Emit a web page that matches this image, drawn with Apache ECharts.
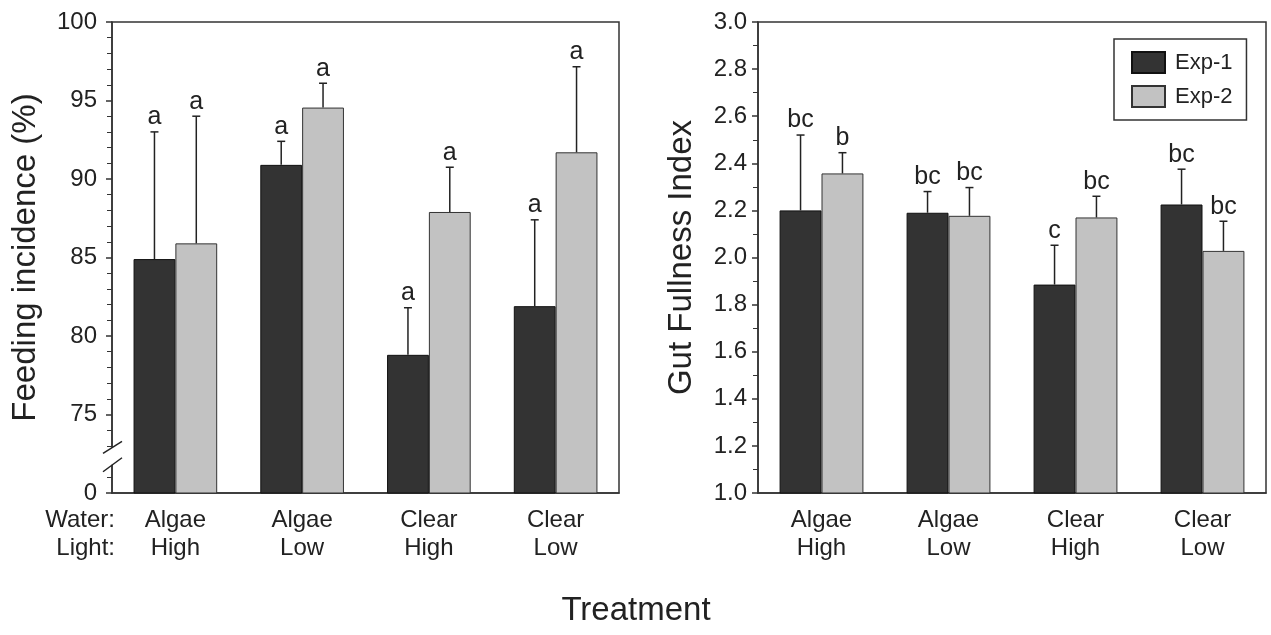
<!DOCTYPE html>
<html>
<head>
<meta charset="utf-8">
<script src="https://cdn.jsdelivr.net/npm/echarts@6/dist/echarts.min.js"></script>
<style>
    html, body { margin: 0; padding: 0; background: #fff; }
    #chart { width: 1271px; height: 635px; }
</style>
</head>
<body>
<div id="chart"></div>
<script>
// treatments (water / light)
const categories = ["Algae\nHigh", "Algae\nLow", "Clear\nHigh", "Clear\nLow"];

// feeding incidence (%), mean and SE
const feedExp1 = [84.9, 90.9, 78.8, 81.9];
const feedSe1 = [8.1, 1.5, 3.0, 5.5];
const feedExp2 = [85.9, 94.55, 87.9, 91.7];
const feedSe2 = [8.1, 1.55, 2.85, 5.45];
const feedLetters1 = ["a", "a", "a", "a"];
const feedLetters2 = ["a", "a", "a", "a"];

// gut fullness index, mean and SE
const gutExp1 = [2.2, 2.19, 1.885, 2.225];
const gutSe1 = [0.32, 0.09, 0.167, 0.15];
const gutExp2 = [2.357, 2.177, 2.17, 2.028];
const gutSe2 = [0.088, 0.12, 0.09, 0.126];
const gutLetters1 = ["bc", "bc", "c", "bc"];
const gutLetters2 = ["b", "bc", "bc", "bc"];

const font = "'Liberation Sans', Arial, sans-serif";
const ink = "#222";
const dark = "#333333";
const light = "#c2c2c2";

let chart = echarts.init(document.getElementById("chart"));

function errBars(means, ses, letters, side, gridIdx) {
    return {
        type: "custom",
        name: "err" + gridIdx + side,
        xAxisIndex: gridIdx,
        yAxisIndex: gridIdx,
        z: 5,
        silent: true,
        data: means.map((m, i) => [i, m, m + ses[i]]),
        renderItem: function(params, api) {
            let idx = api.value(0);
            let w = api.size([1, 0])[0];
            let cx = api.coord([idx, api.value(1)])[0] + side * 0.165 * w;
            let top = api.coord([idx, api.value(1)])[1];
            let cap = api.coord([idx, api.value(2)])[1];
            let lineStyle = { stroke: ink, lineWidth: 1.5 };
            return {
                type: "group",
                children: [
                    { type: "line", shape: { x1: cx, y1: top, x2: cx, y2: cap }, style: lineStyle },
                    { type: "line", shape: { x1: cx - 4, y1: cap, x2: cx + 4, y2: cap }, style: lineStyle },
                    {
                        type: "text",
                        x: cx,
                        y: cap - 2,
                        style: {
                            text: letters[params.dataIndex],
                            fill: ink,
                            font: "25px " + font,
                            align: "center",
                            verticalAlign: "bottom"
                        }
                    }
                ]
            };
        }
    };
}

// axis break on left panel
const breakHigh = 72.9;
const breakLow = 71.8;
let breakSeries = {
    type: "custom",
    name: "break",
    xAxisIndex: 0,
    yAxisIndex: 0,
    z: 6,
    silent: true,
    clip: false,
    data: [[0, breakHigh, breakLow]],
    renderItem: function(params, api) {
        let w = api.size([1, 0])[0];
        let x = api.coord([0, breakHigh])[0] - w / 2;
        let y1 = api.coord([0, breakHigh])[1];
        let y2 = api.coord([0, breakLow])[1];
        let st = { stroke: ink, lineWidth: 1.5 };
        return {
            type: "group",
            children: [
                { type: "rect", shape: { x: x - 8, y: y1, width: 10, height: y2 - y1 }, style: { fill: "#fff" } },
                { type: "line", shape: { x1: x - 9, y1: y1 + 6, x2: x + 10, y2: y1 - 6 }, style: st },
                { type: "line", shape: { x1: x - 9, y1: y2 + 7, x2: x + 10, y2: y2 - 7 }, style: st }
            ]
        };
    }
};

function catAxis(gridIdx) {
    return {
        type: "category",
        gridIndex: gridIdx,
        data: categories,
        axisLine: { lineStyle: { color: dark, width: 1.5 } },
        axisTick: { length: 6, lineStyle: { color: dark, width: 1.5 } },
        axisLabel: {
            color: ink,
            fontFamily: font,
            fontSize: 24,
            lineHeight: 28,
            margin: 13
        }
    };
}

let option = {
    animation: false,
    backgroundColor: "#fff",
    textStyle: { fontFamily: font },
    legend: {
        data: ["Exp-1", "Exp-2"],
        orient: "vertical",
        left: 1114,
        top: 39,
        itemWidth: 33,
        itemHeight: 21,
        itemGap: 11,
        padding: [12, 14, 12, 17],
        borderColor: dark,
        borderWidth: 1.5,
        icon: "rect",
        textStyle: { fontSize: 22, color: ink, fontFamily: font, padding: [0, 0, 0, 5] }
    },
    grid: [
        { left: 112, top: 22, width: 507, height: 471, show: true, borderColor: dark, borderWidth: 1.5, backgroundColor: "transparent" },
        { left: 758, top: 22, width: 508, height: 471, show: true, borderColor: dark, borderWidth: 1.5, backgroundColor: "transparent" }
    ],
    xAxis: [catAxis(0), catAxis(1)],
    yAxis: [
        {
            type: "value",
            gridIndex: 0,
            min: 70,
            max: 100,
            interval: 5,
            name: "Feeding incidence (%)",
            nameLocation: "middle",
            nameGap: 70,
            nameTextStyle: { fontSize: 33, color: ink, fontFamily: font },
            splitLine: { show: false },
            axisLine: { show: true, lineStyle: { color: dark, width: 1.5 } },
            axisTick: { show: true, length: 6, lineStyle: { color: dark, width: 1.5 } },
            minorTick: { show: true, splitNumber: 5, length: 5, lineStyle: { color: dark, width: 1 } },
            axisLabel: {
                color: ink,
                fontSize: 24,
                fontFamily: font,
                margin: 15,
                formatter: v => (v === 70 ? "0" : String(v))
            }
        },
        {
            type: "value",
            gridIndex: 1,
            min: 1,
            max: 3,
            interval: 0.2,
            name: "Gut Fullness Index",
            nameLocation: "middle",
            nameGap: 60,
            nameTextStyle: { fontSize: 33, color: ink, fontFamily: font },
            splitLine: { show: false },
            axisLine: { show: true, lineStyle: { color: dark, width: 1.5 } },
            axisTick: { show: true, length: 6, lineStyle: { color: dark, width: 1.5 } },
            minorTick: { show: true, splitNumber: 2, length: 5, lineStyle: { color: dark, width: 1 } },
            axisLabel: {
                color: ink,
                fontSize: 24,
                fontFamily: font,
                margin: 11,
                formatter: v => v.toFixed(1)
            }
        }
    ],
    graphic: [
        { type: "text", x: 115, y: 520, style: { text: "Water:", font: "24px " + font, fill: ink, align: "right", verticalAlign: "middle" } },
        { type: "text", x: 115, y: 548, style: { text: "Light:", font: "24px " + font, fill: ink, align: "right", verticalAlign: "middle" } },
        { type: "text", x: 636, y: 611, style: { text: "Treatment", font: "33px " + font, fill: ink, align: "center", verticalAlign: "middle" } }
    ],
    series: [
        {
            name: "Exp-1", type: "bar", xAxisIndex: 0, yAxisIndex: 0, data: feedExp1,
            barGap: 0, barCategoryGap: "34%",
            itemStyle: { color: dark, borderColor: "#111", borderWidth: 1 }
        },
        {
            name: "Exp-2", type: "bar", xAxisIndex: 0, yAxisIndex: 0, data: feedExp2,
            barGap: 0, barCategoryGap: "34%",
            itemStyle: { color: light, borderColor: "#333", borderWidth: 1 }
        },
        {
            name: "Exp-1", type: "bar", xAxisIndex: 1, yAxisIndex: 1, data: gutExp1,
            barGap: 0, barCategoryGap: "34%",
            itemStyle: { color: dark, borderColor: "#111", borderWidth: 1 }
        },
        {
            name: "Exp-2", type: "bar", xAxisIndex: 1, yAxisIndex: 1, data: gutExp2,
            barGap: 0, barCategoryGap: "34%",
            itemStyle: { color: light, borderColor: "#333", borderWidth: 1 }
        },
        errBars(feedExp1, feedSe1, feedLetters1, -1, 0),
        errBars(feedExp2, feedSe2, feedLetters2, 1, 0),
        errBars(gutExp1, gutSe1, gutLetters1, -1, 1),
        errBars(gutExp2, gutSe2, gutLetters2, 1, 1),
        breakSeries
    ]
};

chart.setOption(option);
window.addEventListener("resize", function() {
    chart.resize();
});
</script>
</body>
</html>
